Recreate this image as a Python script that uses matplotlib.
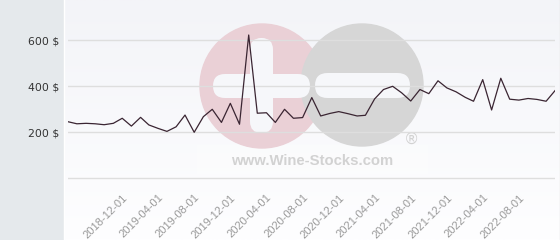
import numpy as np
import pandas as pd
import matplotlib
matplotlib.use("Agg")
import matplotlib.pyplot as plt
import matplotlib.dates as mdates
from matplotlib.patches import Rectangle, Circle, FancyBboxPatch

# ---- data ----
start_month = "2018-06-01"
prices = [246, 237, 239, 237, 233, 239, 261, 227, 265, 232,
          217, 204, 224, 275, 200, 268, 300, 243, 326, 235,
          623, 283, 285, 243, 300, 261, 264, 351, 271, 282,
          290, 281, 271, 274, 345, 386, 400, 372, 336, 386,
          368, 424, 393, 376, 352, 335, 429, 297, 435, 344,
          340, 347, 343, 335, 381]
dates = pd.date_range(start_month, periods=len(prices), freq="MS")
tick_dates = pd.date_range("2018-12-01", "2022-08-01", freq="4MS")
y_ticks = [0, 200, 400, 600]
y_labels = ["", "200 $", "400 $", "600 $"]

W, H = 560, 240
fig = plt.figure(figsize=(W / 100, H / 100), dpi=100)

# ---- background / watermark layer (pixel coords) ----
bg = fig.add_axes([0, 0, 1, 1])
bg.set_xlim(0, W)
bg.set_ylim(H, 0)
bg.axis("off")
top = np.array([243, 244, 248]) / 255
bot = np.array([254, 254, 255]) / 255
t = np.linspace(0, 1, 200)[:, None]
grad = (top[None, :] * (1 - t) + bot[None, :] * t)[:, None, :]
bg.imshow(grad, extent=[63, W, H, 0], aspect="auto", zorder=0)
bg.add_patch(Rectangle((0, 0), 63, H, color="#e5e9ec", zorder=1))
bg.plot([63.5, 63.5], [0, H], color="white", lw=1, zorder=2)
bg.plot([559.5, 559.5], [0, H], color="#e2e2e2", lw=1, zorder=2)

bg.add_patch(Rectangle((197, 145), 230, 28, color="white", alpha=0.3, zorder=2))
bg.add_patch(Circle((262, 86), 62, color="#ead0d6", zorder=3))
bg.add_patch(Circle((362, 85), 61, color="#d6d6d6", zorder=3))
wm_fill = "#f6f7fa"
bg.add_patch(FancyBboxPatch((213, 74), 97, 24, boxstyle="round,pad=0,rounding_size=12",
                            fc=wm_fill, ec="none", zorder=4))
bg.add_patch(FancyBboxPatch((250, 38), 23, 95, boxstyle="round,pad=0,rounding_size=11.5",
                            fc=wm_fill, ec="none", zorder=4))
bg.add_patch(FancyBboxPatch((315, 73), 95, 25, boxstyle="round,pad=0,rounding_size=12.5",
                            fc=wm_fill, ec="none", zorder=4))
bg.text(312, 165, "www.Wine-Stocks.com", family="Liberation Sans", fontweight="bold",
        fontsize=10.7, color="#d2d2d2", ha="center", va="baseline", zorder=5)
bg.text(412, 139, "\u00ae", family="DejaVu Sans", fontsize=11, color="#d2d2d2",
        ha="center", va="center", zorder=5)

# ---- main chart ----
ax_left, ax_right, ax_bottom_px = 68, 555, 180
ax = fig.add_axes([ax_left / W, (H - ax_bottom_px) / H, (ax_right - ax_left) / W, ax_bottom_px / H])
ax.patch.set_alpha(0)
ppu = (178.3 - 40.3) / 600.0
ax.set_ylim(-(ax_bottom_px - 178.3) / ppu, 178.3 / ppu)
ax.set_xlim(dates[0], dates[-1])
for s in ax.spines.values():
    s.set_visible(False)

ax.plot(dates, prices, color="#3a2532", lw=0.9, zorder=3)

ax.set_yticks(y_ticks)
ax.set_yticklabels(y_labels, family="DejaVu Sans", fontsize=7.8, color="#333333")
ax.grid(axis="y", color="#dedede", lw=1)
ax.tick_params(axis="y", length=0, pad=6.5)

ax.set_xticks(tick_dates)
ax.xaxis.set_major_formatter(mdates.DateFormatter("%Y-%m-%d"))
ax.tick_params(axis="x", length=0, pad=9)
for lab in ax.get_xticklabels():
    lab.set_rotation(45)
    lab.set_ha("right")
    lab.set_va("top")
    lab.set_rotation_mode("anchor")
    lab.set_family("Liberation Sans")
    lab.set_fontsize(8)
    lab.set_color("#999999")

fig.savefig("out.png", dpi=100)
